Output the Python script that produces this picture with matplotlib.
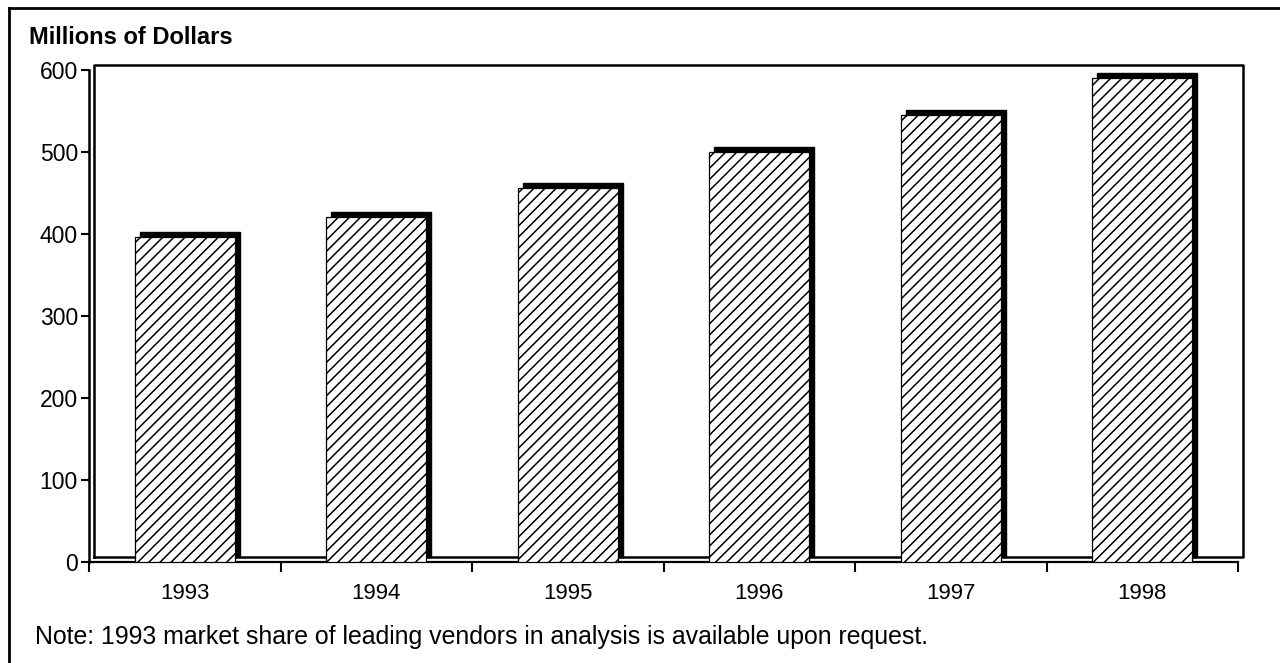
import numpy as np
import matplotlib
matplotlib.use("Agg")
import matplotlib.pyplot as plt
import matplotlib.transforms as mtransforms
from matplotlib.lines import Line2D

plt.rcParams['font.family'] = ['Liberation Sans', 'DejaVu Sans']
plt.rcParams['hatch.linewidth'] = 1.1

years = ['1993', '1994', '1995', '1996', '1997', '1998']
revenue = [396, 421, 456, 500, 545, 590]
y_ticks = [0, 100, 200, 300, 400, 500, 600]

W, H = 1280, 663
fig = plt.figure(figsize=(W / 100, H / 100), dpi=100)

# axes in pixel coordinates: front wall at x=89, floor at y=562, 600 at y=70
left, right, bottom, top = 89, 1238, 562, 70
ax = fig.add_axes([left / W, 1 - bottom / H, (right - left) / W, (bottom - top) / H])
ax.set_xlim(0, len(years))
ax.set_ylim(0, 600)
ax.patch.set_alpha(0)

# depth offset of the pseudo 3D box (5 px right, 5 px up)
depth = mtransforms.ScaledTranslation(5 / 100, 5 / 100, fig.dpi_scale_trans)
back = ax.transData + depth

x = np.arange(len(years)) + 0.5
bw = 0.52
n = len(years)

# black back faces, then hatched front faces
ax.bar(x, revenue, width=bw, color='black', edgecolor='black',
       transform=back, zorder=2)
ax.bar(x, revenue, width=bw, color='white', edgecolor='black',
       hatch='///', linewidth=0.9, zorder=3)

# back wall / floor outline
ax.add_line(Line2D([0, 0, n, n, 0], [0, 600, 600, 0, 0], color='black',
                   lw=1.8, transform=back, zorder=1, clip_on=False))
# front edges
ax.add_line(Line2D([0, n, n], [0, 0, 0], color='black', lw=1.6,
                   transform=ax.transData, zorder=1, clip_on=False))
ax.add_line(Line2D([0, 0], [0, 600], color='black', lw=1.8,
                   transform=ax.transData, zorder=1, clip_on=False))
# category boundary ticks below the floor
for xi in range(n + 1):
    ax.add_line(Line2D([xi], [0], color='black', marker=3, markersize=7,
                       markeredgewidth=1.5, transform=ax.transData,
                       clip_on=False))

for s in ax.spines.values():
    s.set_visible(False)

ax.set_yticks(y_ticks)
ax.set_yticklabels([str(v) for v in y_ticks], fontsize=16.5)
ax.tick_params(axis='y', length=6, width=1.5, pad=2)
ax.set_xticks(x)
ax.set_xticklabels(years, fontsize=16)
ax.tick_params(axis='x', length=0, pad=15)

fig.text(29 / W, 1 - 38 / H, 'Millions of Dollars', fontsize=17,
         fontweight='bold', va='center', ha='left')
fig.text(35 / W, 1 - 637 / H,
         'Note: 1993 market share of leading vendors in analysis is available upon request.',
         fontsize=17.9, va='center', ha='left')

# outer frame (top and left edges)
fig.add_artist(Line2D([9 / W, 1], [1 - 8 / H, 1 - 8 / H], color='black', lw=2))
fig.add_artist(Line2D([9 / W, 9 / W], [0, 1 - 8 / H], color='black', lw=2))

fig.savefig('out.png', dpi=100)
